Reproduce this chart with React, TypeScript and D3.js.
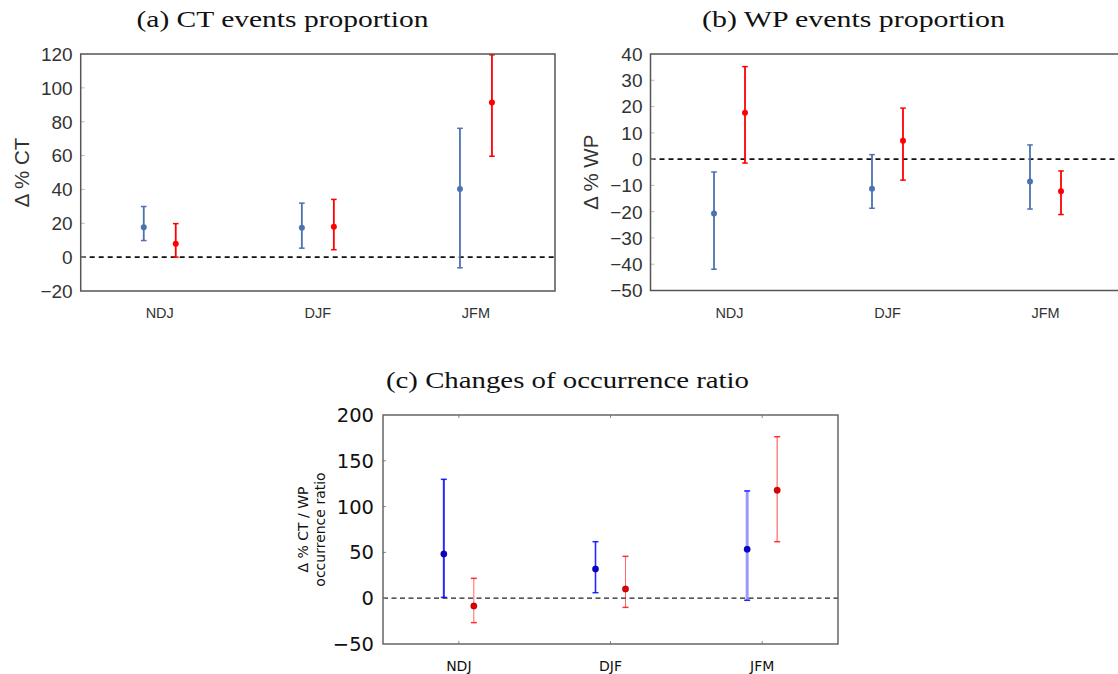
import React from "react";
import * as d3 from "d3";

// ---------- data ----------
const categories = ["NDJ", "DJF", "JFM"];
const seriesKeys = ["blue", "red"];

// (a) CT events proportion
const ctBlue = [17.7, 17.4, 40.3];
const ctBlueLo = [9.8, 5.3, -6.3];
const ctBlueHi = [29.9, 31.9, 76.1];
const ctRed = [7.9, 18.0, 91.3];
const ctRedLo = [0.0, 4.4, 59.6];
const ctRedHi = [19.8, 34.1, 119.5];
const ctTicks = [-20, 0, 20, 40, 60, 80, 100, 120];

// (b) WP events proportion
const wpBlue = [-20.7, -11.3, -8.5];
const wpBlueLo = [-41.9, -18.7, -19.0];
const wpBlueHi = [-4.9, 1.7, 5.4];
const wpRed = [17.6, 7.0, -12.2];
const wpRedLo = [-1.5, -8.0, -21.1];
const wpRedHi = [35.2, 19.4, -4.5];
const wpTicks = [-50, -40, -30, -20, -10, 0, 10, 20, 30, 40];

// (c) Changes of occurrence ratio
const ratioBlue = [48.3, 31.9, 53.4];
const ratioBlueLo = [0.9, 6.0, -2.3];
const ratioBlueHi = [129.8, 61.7, 117.1];
const ratioRed = [-8.5, 10.0, 117.8];
const ratioRedLo = [-26.7, -10.0, 61.7];
const ratioRedHi = [21.7, 45.7, 176.3];
const ratioTicks = [-50, 0, 50, 100, 150, 200];

// ---------- styles (panel c per-category error bar styles) ----------
const cBlueWidth = [2, 1.6, 3];
const cBlueOpacity = [0.85, 0.85, 0.4];
const cRedWidth = [1, 1, 1.3];
const cRedOpacity = [0.6, 0.6, 0.55];

const SERIF = "'Liberation Serif','DejaVu Serif',serif";
const SANS = "'Liberation Sans',Arial,sans-serif";
const DEJAVU = "'DejaVu Sans',sans-serif";

type Series = { v: number[]; lo: number[]; hi: number[]; color: string; dot: string; widths: number[]; opac: number[]; capOpac: number };

function Panel(props: {
  title: string;
  titleX: number;
  titleY: number;
  titleLen: number;
  x0: number;
  x1: number;
  y0: number;
  y1: number;
  domain: [number, number];
  ticks: number[];
  blue: Series;
  red: Series;
  offset: number;
  ylabel: string[];
  ylabelX: number;
  style: "a" | "c";
}) {
  const p = props;
  const x = d3.scaleBand<string>().domain(categories).range([p.x0, p.x1]).padding(0);
  const sub = d3.scalePoint<string>().domain(seriesKeys).range([-p.offset, p.offset]);
  const y = d3.scaleLinear().domain(p.domain).range([p.y1, p.y0]);
  const cx = (c: string) => (x(c) as number) + x.bandwidth() / 2;
  const isA = p.style === "a";
  const tickFont = isA ? SANS : DEJAVU;
  const tickColor = isA ? "#333" : "#111";
  const frameColor = isA ? "#555" : "#666";
  const yMid = (p.y0 + p.y1) / 2;

  const drawSeries = (s: Series, key: string) =>
    categories.map((c, i) => {
      const xx = cx(c) + (sub(key) as number);
      const cap = isA ? 2.8 : 3;
      return (
        <g key={key + c}>
          <line x1={xx} x2={xx} y1={y(s.lo[i])} y2={y(s.hi[i])} stroke={s.color} strokeWidth={s.widths[i]} strokeOpacity={s.opac[i]} />
          <line x1={xx - cap} x2={xx + cap} y1={y(s.lo[i])} y2={y(s.lo[i])} stroke={s.color} strokeWidth={1.5} strokeOpacity={s.capOpac} />
          <line x1={xx - cap} x2={xx + cap} y1={y(s.hi[i])} y2={y(s.hi[i])} stroke={s.color} strokeWidth={1.5} strokeOpacity={s.capOpac} />
          <circle cx={xx} cy={y(s.v[i])} r={isA ? 3 : 3.2} fill={s.dot} stroke={isA ? s.dot : "#400"} strokeWidth={isA ? 0 : 0.3} />
        </g>
      );
    });

  return (
    <g>
      <text x={p.titleX} y={p.titleY} textAnchor="middle" fontFamily={SERIF} fontSize={24} fill="#111" textLength={p.titleLen} lengthAdjust="spacingAndGlyphs">
        {p.title}
      </text>
      {/* zero line */}
      <line
        x1={p.x0}
        x2={p.x1}
        y1={y(0)}
        y2={y(0)}
        stroke={isA ? "#111" : "#222"}
        strokeWidth={isA ? 1.8 : 1.2}
        strokeDasharray={isA ? "5,4" : "5,3.5"}
      />
      {/* y ticks */}
      {p.ticks.map((t) => (
        <g key={t}>
          {t !== p.domain[0] && t !== p.domain[1] && (
            <line x1={p.x0} x2={p.x0 + (isA ? 4 : 3)} y1={y(t)} y2={y(t)} stroke={isA ? "#bbb" : "#888"} strokeWidth={1} />
          )}
          <text
            x={p.x0 - (isA ? 8 : 9)}
            y={y(t)}
            dy="0.36em"
            textAnchor="end"
            fontFamily={tickFont}
            fontSize={isA ? 19 : 19.5}
            fill={tickColor}
          >
            {t < 0 ? "\u2212" + Math.abs(t) : String(t)}
          </text>
        </g>
      ))}
      {/* x category ticks (panel c) and labels */}
      {categories.map((c) => (
        <g key={c}>
          {!isA && (
            <>
              <line x1={cx(c)} x2={cx(c)} y1={p.y1} y2={p.y1 - 3} stroke="#888" strokeWidth={1} />
              <line x1={cx(c)} x2={cx(c)} y1={p.y0} y2={p.y0 + 3} stroke="#888" strokeWidth={1} />
            </>
          )}
          <text x={cx(c)} y={p.y1 + 27} textAnchor="middle" fontFamily={tickFont} fontSize={isA ? 14.5 : 14} fill={tickColor}>
            {c}
          </text>
        </g>
      ))}
      {drawSeries(p.blue, "blue")}
      {drawSeries(p.red, "red")}
      {/* frame */}
      <rect x={p.x0} y={p.y0} width={p.x1 - p.x0} height={p.y1 - p.y0} fill="none" stroke={frameColor} strokeWidth={1.5} />
      {/* y label */}
      <g transform={`translate(${p.ylabelX},${yMid}) rotate(-90)`}>
        {p.ylabel.length === 1 ? (
          <text textAnchor="middle" dy="0.36em" fontFamily={SANS} fontSize={20.5} fill="#333">
            {p.ylabel[0]}
          </text>
        ) : (
          p.ylabel.map((l, i) => (
            <text key={i} textAnchor="middle" y={i * 17} dy="0.36em" fontFamily={DEJAVU} fontSize={14} fill="#111">
              {l}
            </text>
          ))
        )}
      </g>
    </g>
  );
}

export default function App() {
  const blueA = "#4c72b0";
  const redA = "#ff0000";
  return (
    <svg width={1118} height={674} style={{ position: "absolute", left: 0, top: 0, background: "#fff" }}>
      <rect x={0} y={0} width={1118} height={674} fill="#fff" />
      <Panel
        title="(a) CT events proportion"
        titleX={282.5}
        titleY={27}
        titleLen={292}
        x0={80.7}
        x1={555}
        y0={54}
        y1={291}
        domain={[-20, 120]}
        ticks={ctTicks}
        blue={{ v: ctBlue, lo: ctBlueLo, hi: ctBlueHi, color: blueA, dot: blueA, widths: [1.8, 1.8, 1.8], opac: [1, 1, 1], capOpac: 1 }}
        red={{ v: ctRed, lo: ctRedLo, hi: ctRedHi, color: redA, dot: redA, widths: [1.8, 1.8, 1.8], opac: [1, 1, 1], capOpac: 1 }}
        offset={16}
        ylabel={["\u0394 % CT"]}
        ylabelX={22}
        style="a"
      />
      <Panel
        title="(b) WP events proportion"
        titleX={853.5}
        titleY={27}
        titleLen={303}
        x0={650.5}
        x1={1124.5}
        y0={54}
        y1={290.5}
        domain={[-50, 40]}
        ticks={wpTicks}
        blue={{ v: wpBlue, lo: wpBlueLo, hi: wpBlueHi, color: blueA, dot: blueA, widths: [1.8, 1.8, 1.8], opac: [1, 1, 1], capOpac: 1 }}
        red={{ v: wpRed, lo: wpRedLo, hi: wpRedHi, color: redA, dot: redA, widths: [1.8, 1.8, 1.8], opac: [1, 1, 1], capOpac: 1 }}
        offset={15.5}
        ylabel={["\u0394 % WP"]}
        ylabelX={591}
        style="a"
      />
      <Panel
        title="(c) Changes of occurrence ratio"
        titleX={567.5}
        titleY={388}
        titleLen={363}
        x0={383}
        x1={838}
        y0={415}
        y1={644}
        domain={[-50, 200]}
        ticks={ratioTicks}
        blue={{ v: ratioBlue, lo: ratioBlueLo, hi: ratioBlueHi, color: "#0000ff", dot: "#0000d8", widths: cBlueWidth, opac: cBlueOpacity, capOpac: 0.85 }}
        red={{ v: ratioRed, lo: ratioRedLo, hi: ratioRedHi, color: "#ff0000", dot: "#e00000", widths: cRedWidth, opac: cRedOpacity, capOpac: 0.8 }}
        offset={15}
        ylabel={["\u0394 % CT / WP", "occurrence ratio"]}
        ylabelX={303}
        style="c"
      />
    </svg>
  );
}
